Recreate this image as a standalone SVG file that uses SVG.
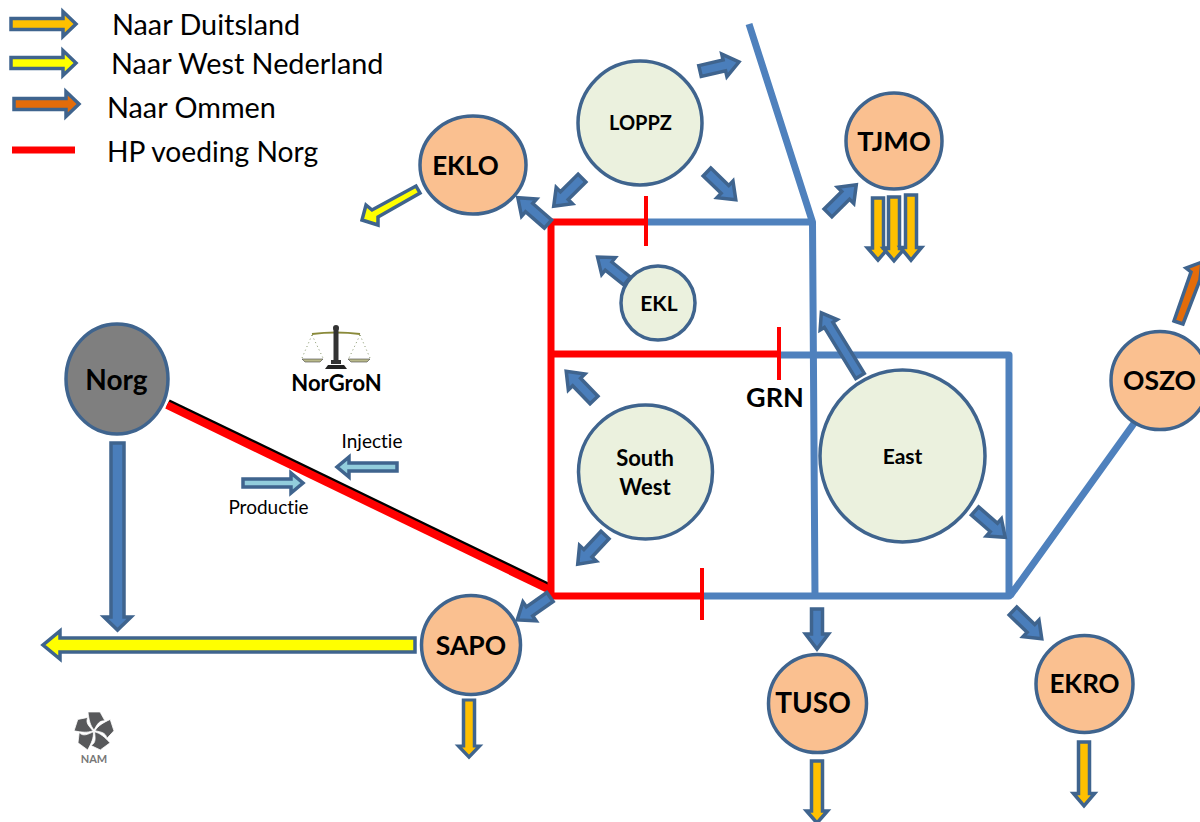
<svg xmlns="http://www.w3.org/2000/svg" width="1200" height="822" viewBox="0 0 1200 822">
<style>
text{font-family:Lato,"Liberation Sans",sans-serif;fill:#000;font-variant-ligatures:none}
.leg{font-size:28.8px}
.sm{font-size:19px;text-anchor:middle}
.b{font-weight:700;text-anchor:middle}
.blue{fill:none;stroke:#4f81bd;stroke-width:7;stroke-linejoin:round}
.red{fill:none;stroke:#f00;stroke-width:7}
.tick{fill:none;stroke:#f00;stroke-width:4}
.node{stroke:#3f648e;stroke-width:3.5}
.or{fill:#fac090}.gr{fill:#ebf1de}
.ar{stroke:#3f648e;stroke-width:3.5;stroke-linejoin:miter}
.bl{fill:#4a7ebb}.go{fill:#ffc000}.ye{fill:#ff0}.om{fill:#e46c0a}.lb{fill:#92cddc}
</style>
<defs>
<polygon id="small" points="0,-5.500 25,-5.500 25,-11.500 40,0 25,11.500 25,5.500 0,5.500"/>
<polygon id="long" points="0,-5.500 52,-5.500 52,-12.500 65,0 52,12.500 52,5.500 0,5.500"/>
<polygon id="thin" points="0,-4 48,-4 48,-10 60,0 48,10 48,4 0,4"/>
<polygon id="gold" points="0,-5.500 50,-5.500 50,-10.500 62,0 50,10.500 50,5.500 0,5.500"/>
<path id="petal" d="M0,-1 C-4,-6 -5,-11 -6,-19 L6,-19 L11,-10 C5,-11 3,-6 0,-1Z"/>
</defs>
<g id="connectors">
<path class="blue" d="M749,24L812.5,222L815,596M646,222H812.5M779,355H1009V596H702M1010,596L1135,422"/>
<path d="M168,403L551,588" fill="none" stroke="#000" stroke-width="8"/>
<path d="M167,405L550,590" fill="none" stroke="#f00" stroke-width="8"/>
<path class="red" d="M646,222H551V596H702M551,354H779"/>
<path class="tick" d="M646,196V246M779,327V380M702,568V620"/>
</g>
<g id="flows">
<use href="#small" class="ar bl" transform="translate(700,71) rotate(-13)"/>
<use href="#small" class="ar bl" transform="translate(707,172) rotate(44)"/>
<use href="#small" class="ar bl" transform="translate(582,178) rotate(135)"/>
<use href="#small" class="ar bl" transform="translate(548,224) rotate(-139)"/>
<use href="#small" class="ar bl" transform="translate(627,281) rotate(-141) scale(.95)"/>
<use href="#small" class="ar bl" transform="translate(828,213) rotate(-45)"/>
<polygon class="ar bl" points="0,-5 60,-5 60,-10 74,0 60,10 60,5 0,5" transform="translate(860,376) rotate(-121.5)"/>
<use href="#small" class="ar bl" transform="translate(594,400) rotate(-134)"/>
<use href="#small" class="ar bl" transform="translate(605,535) rotate(133)"/>
<use href="#small" class="ar bl" transform="translate(975,511) rotate(41)"/>
<use href="#small" class="ar bl" transform="translate(550,597) rotate(145)"/>
<use href="#small" class="ar bl" transform="translate(817,609) rotate(90)"/>
<use href="#small" class="ar bl" transform="translate(1013,611) rotate(44)"/>
<polygon class="ar bl" points="111,443 124,443 124,617 131,617 117.500,630 104,617 111,617"/>
<polygon class="ar ye" points="415,638 60,638 60,631 43,645 60,659 60,652 415,652"/>
<polygon class="ar ye" points="416,186 420,193 378,217 378,225 362,220 366,205 372,210"/>
<polygon class="ar om" points="1174,321 1183,324 1200,280 1202,262 1186,268 1191,272"/>
<use href="#thin" class="ar lb" transform="translate(397,467) rotate(180)"/>
<use href="#thin" class="ar lb" transform="translate(243,483)"/>
<use href="#gold" class="ar go" transform="translate(878,198) rotate(90)"/>
<use href="#gold" class="ar go" transform="translate(894,197) rotate(90) scale(1.03,1)"/>
<use href="#gold" class="ar go" transform="translate(911,195) rotate(90) scale(1.05,1)"/>
<use href="#gold" class="ar go" transform="translate(469,700) rotate(90) scale(.92,1)"/>
<use href="#gold" class="ar go" transform="translate(817,761) rotate(90)"/>
<use href="#gold" class="ar go" transform="translate(1084,742) rotate(90) scale(1.03,1)"/>
</g>
<g id="legend">
<use href="#long" class="ar go" transform="translate(11,24)"/>
<use href="#long" class="ar ye" transform="translate(11,63)"/>
<use href="#long" class="ar om" transform="translate(14,104)"/>
<path d="M12,150H75" stroke="#f00" stroke-width="7"/>
<text class="leg" x="112" y="35">Naar Duitsland</text>
<text class="leg" x="111" y="74">Naar West Nederland</text>
<text class="leg" x="107" y="118">Naar Ommen</text>
<text class="leg" x="107" y="162" style="font-size:28.2px">HP voeding Norg</text>
</g>
<g id="Norg"><ellipse class="node" cx="117" cy="379" rx="51" ry="55" fill="#7f7f7f"/><text class="b" x="116.500" y="390" font-size="28">Norg</text></g>
<g id="EKLO"><ellipse class="node or" cx="473" cy="165" rx="53" ry="49"/><text class="b" x="465.500" y="175" font-size="26">EKLO</text></g>
<g id="TJMO"><circle class="node or" cx="894" cy="141" r="48"/><text class="b" x="894" y="151" font-size="27">TJMO</text></g>
<g id="LOPPZ"><circle class="node gr" cx="640" cy="123" r="62"/><text class="b" x="640.500" y="130" font-size="20">LOPPZ</text></g>
<g id="EKL"><circle class="node gr" cx="658" cy="303" r="37"/><text class="b" x="659" y="311" font-size="21">EKL</text></g>
<g id="SouthWest"><circle class="node gr" cx="645.500" cy="472" r="67"/><text class="b" x="645" y="466" font-size="22">South</text><text class="b" x="645" y="495" font-size="22">West</text></g>
<g id="East"><ellipse class="node gr" cx="902.500" cy="456" rx="82.500" ry="86"/><text class="b" x="902.500" y="464" font-size="21">East</text></g>
<g id="SAPO"><circle class="node or" cx="471" cy="645" r="49.500"/><text class="b" x="471" y="655" font-size="26.500">SAPO</text></g>
<g id="TUSO"><circle class="node or" cx="817.500" cy="703.500" r="49"/><text class="b" x="813" y="713" font-size="28">TUSO</text></g>
<g id="EKRO"><circle class="node or" cx="1084.500" cy="684" r="48.500"/><text class="b" x="1084.500" y="693" font-size="26">EKRO</text></g>
<g id="OSZO"><circle class="node or" cx="1160" cy="380.500" r="49"/><text class="b" x="1159.500" y="390" font-size="26.500">OSZO</text></g>
<g id="labels">
<text class="b" x="775" y="407" font-size="27">GRN</text>
<text class="sm" x="372" y="448">Injectie</text>
<text class="sm" x="268.500" y="514">Productie</text>
</g>
<g id="NorGroN">
<path d="M312,334Q336,331 360,334" fill="none" stroke="#8a8a3a" stroke-width="2"/>
<path d="M336,329V362" stroke="#333" stroke-width="5"/>
<circle cx="336" cy="328" r="3" fill="#333"/>
<path d="M325,369H347L344,365H328Z" fill="#222"/>
<path d="M331,364H341V360H331Z" fill="#333"/>
<path d="M302,359H323L320,362H305Z" fill="#b9b98a" stroke="#444" stroke-width=".6"/>
<path d="M348,359H370L367,362H351Z" fill="#b9b98a" stroke="#444" stroke-width=".6"/>
<path d="M312,335L302,358M312,335L323,358M360,335L349,358M360,335L370,358" stroke="#667a44" stroke-width=".8" stroke-dasharray="1 3" fill="none"/>
<text class="b" x="336.500" y="391" font-size="22">NorGroN</text>
</g>
<g id="NAM">
<g fill="#58595b" stroke="#fff" stroke-width=".7" transform="translate(94,731)">
<use href="#petal"/><use href="#petal" transform="rotate(72)"/><use href="#petal" transform="rotate(144)"/><use href="#petal" transform="rotate(216)"/><use href="#petal" transform="rotate(288)"/>
</g>
<text class="b" x="94" y="763" font-size="11" style="fill:#777">NAM</text>
</g>
</svg>
